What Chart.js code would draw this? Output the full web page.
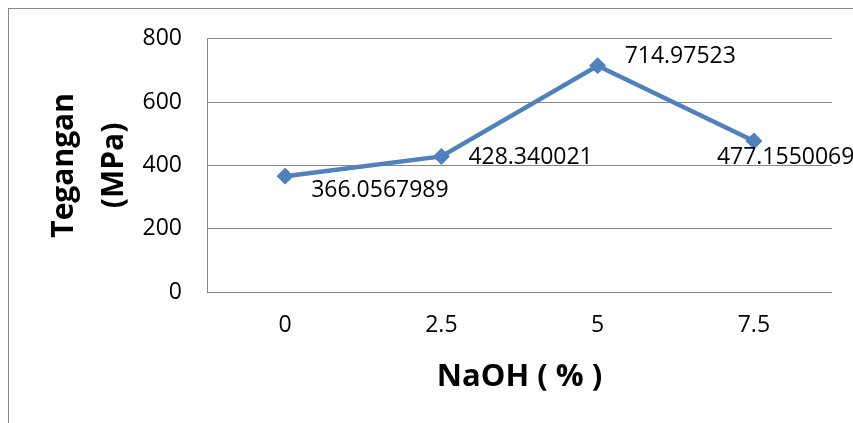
<!DOCTYPE html>
<html>
<head>
<meta charset="utf-8">
<script src="https://cdn.jsdelivr.net/npm/chart.js@4/dist/chart.umd.min.js"></script>
<style>
  html, body { margin: 0; padding: 0; background: #fff; }
  canvas { display: block; }
</style>
</head>
<body>
<canvas id="c" width="853" height="423"></canvas>
<script>
// ---- data ----
const categories = ['0', '2.5', '5', '7.5'];
const tegangan = [366.0567989, 428.340021, 714.97523, 477.1550069];
const labelTexts = ['366.0567989', '428.340021', '714.97523', '477.1550069'];
const yTicks = [0, 200, 400, 600, 800];
const xTitle = 'NaOH ( % )';
const yTitle = ['Tegangan', '(MPa)'];

// label placement (styling) relative to each point
const labelDx = [26, 27, 27, -37];
const labelDy = [14, 1, -9, 16];

const FONT = '"Open Sans", "Liberation Sans", sans-serif';
const GRAY = '#878787';
const BLUE = '#4F81BD';

const outerBorder = {
  id: 'outerBorder',
  beforeDraw(chart) {
    const ctx = chart.ctx;
    ctx.save();
    ctx.strokeStyle = GRAY;
    ctx.lineWidth = 1;
    ctx.strokeRect(8.5, 8.5, 900, 500);
    ctx.restore();
  }
};

const dataLabels = {
  id: 'dataLabels',
  afterDatasetsDraw(chart) {
    const ctx = chart.ctx;
    const meta = chart.getDatasetMeta(0);
    ctx.save();
    ctx.font = '23px ' + FONT;
    ctx.fillStyle = '#000';
    ctx.textAlign = 'left';
    ctx.textBaseline = 'middle';
    meta.data.forEach((pt, i) => {
      ctx.fillText(labelTexts[i], pt.x + labelDx[i], pt.y + labelDy[i]);
    });
    ctx.restore();
  }
};

new Chart(document.getElementById('c'), {
  type: 'line',
  data: {
    labels: categories,
    datasets: [{
      data: tegangan,
      borderColor: BLUE,
      backgroundColor: BLUE,
      borderWidth: 4.5,
      pointStyle: 'rectRot',
      pointRadius: 8,
      pointBorderWidth: 1,
      pointBorderColor: BLUE,
      pointBackgroundColor: BLUE,
      tension: 0,
      fill: false
    }]
  },
  options: {
    responsive: false,
    animation: false,
    layout: { padding: { top: 38, right: 21, left: 0, bottom: 0 } },
    plugins: { legend: { display: false }, tooltip: { enabled: false } },
    scales: {
      x: {
        type: 'category',
        offset: true,
        grid: { display: false, drawTicks: false },
        border: { display: false },
        ticks: { color: '#000', font: { family: FONT, size: 23 }, padding: 20, maxRotation: 0 },
        title: {
          display: true, text: xTitle, color: '#000',
          font: { family: FONT, size: 31, weight: 'bold' },
          padding: { top: 0, bottom: 27 }
        },
        afterFit(s) { s.height = 131; }
      },
      y: {
        min: 0, max: 800,
        afterBuildTicks(s) { s.ticks = yTicks.map(v => ({ value: v })); },
        grid: { color: GRAY, lineWidth: 1, drawTicks: false },
        border: { display: true, color: GRAY, width: 1 },
        ticks: { color: '#000', font: { family: FONT, size: 23 }, padding: 25 },
        title: {
          display: true, text: yTitle, color: '#000',
          font: { family: FONT, size: 30, weight: 'bold', lineHeight: 1.667 },
          padding: { top: 39, bottom: 0 }
        },
        afterFit(s) { s.width = 207; }
      }
    }
  },
  plugins: [outerBorder, dataLabels]
});
</script>
</body>
</html>
